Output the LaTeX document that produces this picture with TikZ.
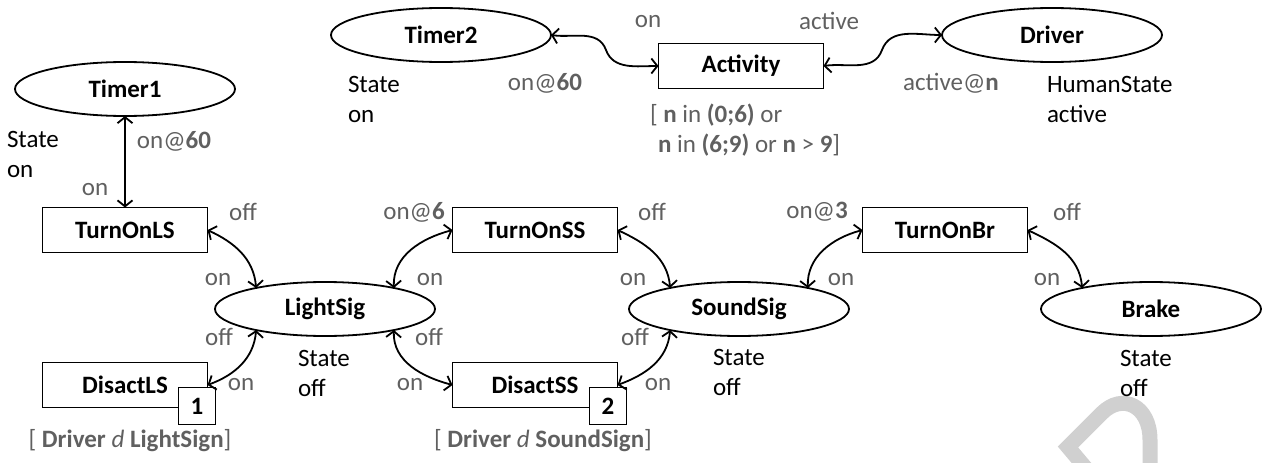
\documentclass[tikz,border=0pt]{standalone}
\usepackage{fontspec}
\setmainfont{Carlito}
\usetikzlibrary{shapes.geometric,arrows.meta}
\definecolor{labelgray}{RGB}{96,96,96}
\definecolor{wmgray}{RGB}{208,208,208}
\begin{document}
\begin{tikzpicture}[x=1pt,y=1pt,
  every node/.style={font=\fontsize{25}{30}\selectfont, inner sep=0pt, outer sep=0pt},
  place/.style={ellipse, draw, line width=1.8pt, minimum width=220pt, minimum height=54pt, font=\fontsize{25}{30}\selectfont\bfseries},
  trans/.style={rectangle, draw, line width=1.8pt, minimum width=165pt, minimum height=45pt, font=\fontsize{25}{30}\selectfont\bfseries},
  numbox/.style={rectangle, draw, fill=white, line width=1.8pt, minimum size=37pt, font=\fontsize{25}{30}\selectfont\bfseries},
  glabel/.style={text=labelgray},
  note/.style={align=left, anchor=base west},
  link/.style={line width=1.8pt, {Straight Barb[length=6pt,width=15pt]}-{Straight Barb[length=6pt,width=15pt]}},
]
\useasboundingbox (0,0) rectangle (1267,-463);

% watermark
\begin{scope}
\clip (0,0) rectangle (1267,-463);
\draw[wmgray, line width=15pt, line join=miter] (1100,-485) -- (1068,-447) -- (1102,-413)
  .. controls (1122,-393) and (1150,-405) .. (1150,-440) -- (1150,-490);
\end{scope}

% places
\node[place] (T1) at (125,-89) {Timer1};
\node[place] (T2) at (441,-35) {Timer2};
\node[place] (DRV) at (1052,-35) {Driver};
\node[place] (LS) at (325,-309) {LightSig};
\node[place] (SS) at (739,-309) {SoundSig};
\node[place] (BR) at (1151,-309) {Brake};

% transitions
\node[trans] (ACT) at (741,-66) {Activity};
\node[trans] (TOLS) at (125,-230) {TurnOnLS};
\node[trans] (DLS) at (125,-385) {DisactLS};
\node[trans] (TOSS) at (535,-230) {TurnOnSS};
\node[trans] (DSS) at (535,-385) {DisactSS};
\node[trans] (TOBR) at (945,-230) {TurnOnBr};
\node[numbox] (B1) at (197,-406) {1};
\node[numbox] (B2) at (608,-406) {2};

\coordinate (C1) at (606,-50);
\coordinate (C2) at (882,-50);

% connectors
\draw[link] (T1.south) -- (TOLS.north);
\draw[link] (TOLS.east) to[out=-25,in=95] (LS.163);
\draw[link] (DLS.east) to[out=20,in=-95] (LS.197);
\draw[link] (LS.17) to[out=92,in=195] (TOSS.west);
\draw[link] (LS.-17) to[out=-92,in=165] (DSS.west);
\draw[link] (TOSS.east) to[out=-25,in=95] (SS.163);
\draw[link] (DSS.east) to[out=20,in=-95] (SS.197);
\draw[link] (SS.17) to[out=92,in=195] (TOBR.west);
\draw[link] (TOBR.east) to[out=-25,in=95] (BR.163);
\draw[link] (T2.east) to[out=-8,in=110] (C1) to[out=-70,in=180] (ACT.west);
\draw[link] (ACT.east) to[out=8,in=-110] (C2) to[out=70,in=180] (DRV.west);

% gray labels
\node[glabel] (L1) at (174,-141) {on@\textbf{60}};
\node[glabel] (L2) at (95,-190) {on};
\node[glabel] (L3) at (243,-212) {off};
\node[glabel] (L4) at (218,-280) {on};
\node[glabel] (L5) at (219,-337) {off};
\node[glabel] (L6) at (241,-385) {on};
\node[glabel] (L7) at (414,-212) {on@\textbf{6}};
\node[glabel] (L8) at (430,-280) {on};
\node[glabel] (L9) at (429,-337) {off};
\node[glabel] (L10) at (410,-385) {on};
\node[glabel] (L11) at (652,-212) {off};
\node[glabel] (L12) at (633,-280) {on};
\node[glabel] (L13) at (635,-337) {off};
\node[glabel] (L14) at (658,-385) {on};
\node[glabel] (L15) at (817,-212) {on@\textbf{3}};
\node[glabel] (L16) at (841,-280) {on};
\node[glabel] (L17) at (1067,-212) {off};
\node[glabel] (L18) at (1047,-280) {on};
\node[glabel] (L19) at (648,-22) {on};
\node[glabel] (L20) at (545,-83) {on@\textbf{60}};
\node[glabel] (L21) at (829,-21) {active};
\node[glabel] (L22) at (951,-83) {active@\textbf{n}};
\node[glabel, note] (G1) at (650,-152) {[ \textbf{n} in \textbf{(0;6)} or\\\hspace{8pt}\textbf{n} in \textbf{(6;9)} or \textbf{n} > \textbf{9}]};
\node[glabel, anchor=base] (G2) at (130,-447) {[ \textbf{Driver} \textit{d} \textbf{LightSign}]};
\node[glabel, anchor=base] (G3) at (543,-447) {[ \textbf{Driver} \textit{d} \textbf{SoundSign}]};

% black notes
\node[note] (N1) at (7,-177) {State\\on};
\node[note] (N2) at (348,-122) {State\\on};
\node[note] (N3) at (1047,-122) {HumanState\\active};
\node[note] (N4) at (298,-396) {State\\off};
\node[note] (N5) at (713,-395) {State\\off};
\node[note] (N6) at (1120,-396) {State\\off};
\end{tikzpicture}
\end{document}
